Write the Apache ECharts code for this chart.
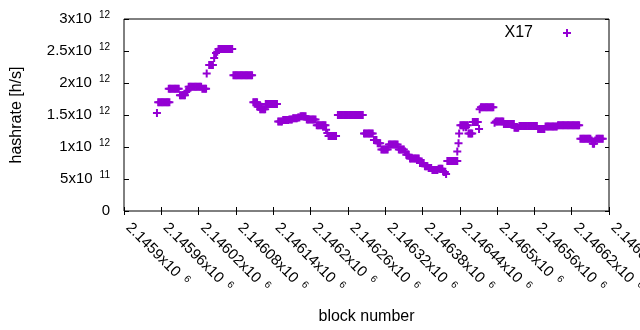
<!DOCTYPE html>
<html>
<head>
<meta charset="utf-8">
<style>
  html, body { margin: 0; padding: 0; background: #fff; }
  #chart { width: 640px; height: 330px; }
</style>
<script src="https://cdn.jsdelivr.net/npm/echarts@6/dist/echarts.min.js"></script>
</head>
<body>
<div id="chart"></div>
<script>
// x tick mantissas (value = mantissa x 10^6)
const xTickMantissa = ['2.1459', '2.14596', '2.14602', '2.14608', '2.14614', '2.1462', '2.14626',
  '2.14632', '2.14638', '2.14644', '2.1465', '2.14656', '2.14662', '2.14668']
// y tick labels: [mantissa, exponent]
const yTickLabels = [['0', ''], ['5', '11'], ['1', '12'], ['1.5', '12'], ['2', '12'], ['2.5', '12'], ['3', '12']]

const seriesName = 'X17'
const blockBase = 2145900
// X17 blocks: [hashrate in 10^12 h/s, block offsets from blockBase]
const x17Runs = [
  [1.53, [53]],
  [1.70, [55, 57, 59, 61, 63, 65, 67, 69, 71, 73]],
  [1.91, [72, 74, 76, 78, 80, 82, 84, 86, 88]],
  [1.81, [90, 92, 94, 96, 98]],
  [1.86, [100]],
  [1.88, [102]],
  [1.94, [104, 106, 108, 110, 112, 114, 116, 118, 120, 122, 124]],
  [1.91, [126, 128, 130, 132]],
  [2.15, [133]],
  [2.28, [137, 139, 141, 143]],
  [2.39, [145]],
  [2.47, [148]],
  [2.49, [150]],
  [2.53, [152, 154, 156, 158, 160, 162, 164, 166, 168, 170, 172, 174]],
  [2.12, [176, 178, 180, 182, 184, 186, 188, 190, 192, 194, 196, 198, 200, 202, 204, 206]],
  [1.70, [208, 210, 212, 214]],
  [1.63, [215, 217, 219, 221]],
  [1.59, [219, 221, 223, 225, 227]],
  [1.67, [228, 230, 232, 234, 236, 238, 240, 242, 244, 246]],
  [1.40, [248, 250, 252, 254]],
  [1.42, [256, 258, 260, 262, 264]],
  [1.43, [266, 268, 270]],
  [1.45, [272, 274, 276, 278]],
  [1.46, [280, 282]],
  [1.48, [284, 286, 288, 290, 292]],
  [1.43, [294, 296, 298, 300, 302, 304, 306, 308]],
  [1.34, [310, 312, 314, 316, 318, 320, 322, 324]],
  [1.27, [325]],
  [1.22, [327]],
  [1.17, [329, 331, 333, 335, 337, 339, 341]],
  [1.50, [344, 346, 348, 350, 352, 354, 356, 358, 360, 362, 364, 366, 368, 370, 372, 374, 376, 378, 380, 382, 384]],
  [1.21, [386, 388, 390, 392, 394, 396, 398, 400]],
  [1.11, [402, 404, 406]],
  [1.06, [408, 410, 412]],
  [0.96, [414, 416, 418, 420, 422, 424]],
  [1.04, [426, 428, 430, 432, 434, 436, 438, 440]],
  [0.96, [442, 444, 446, 448, 450]],
  [0.93, [452]],
  [0.88, [454, 456, 458]],
  [0.82, [460, 462, 464, 466, 468, 470, 472, 474]],
  [0.75, [476, 478, 480, 482]],
  [0.70, [484, 486, 488]],
  [0.67, [490, 492, 494]],
  [0.64, [496, 498, 500, 502, 504]],
  [0.66, [506, 508, 510, 512]],
  [0.61, [514, 516]],
  [0.58, [518]],
  [0.78, [520, 522, 524, 526, 528, 530, 532, 534, 536]],
  [0.93, [536]],
  [1.06, [538]],
  [1.21, [539]],
  [1.34, [541, 543, 545, 547, 549, 551, 553]],
  [1.31, [546, 550]],
  [1.21, [554, 556, 558, 560]],
  [1.39, [561, 563, 565, 567, 569]],
  [1.28, [571]],
  [1.59, [572]],
  [1.62, [574, 576, 578, 580, 582, 584, 586, 588, 590, 592, 594]],
  [1.38, [596]],
  [1.40, [598, 600, 602, 604, 606, 608, 610]],
  [1.36, [611, 613, 615, 617, 619, 621, 623, 625, 627]],
  [1.30, [628, 630, 632, 634]],
  [1.33, [636, 638, 640, 642, 644, 646, 648, 650, 652, 654, 656, 658, 660, 662, 664]],
  [1.28, [666, 668, 670, 672, 674, 676]],
  [1.32, [678, 680, 682, 684, 686, 688, 690, 692, 694, 696]],
  [1.34, [698, 700, 702, 704, 706, 708, 710, 712, 714, 716, 718, 720, 722, 724, 726, 728, 730, 732]],
  [1.13, [734, 736, 738, 740, 742, 744, 746, 748, 750]],
  [1.10, [752, 758]],
  [1.05, [754, 756]],
  [1.13, [760, 762, 764, 766, 768, 770]]
]

const FONT = 'Liberation Sans'
const PURPLE = '#9400d3'
// "+" marker as two thin filled bars
const PLUS = 'path://M0,3H8V5H0Z M3,0H5V8H3Z'

const points = []
x17Runs.forEach(r => {
  r[1].forEach(off => points.push([blockBase + off, r[0] * 1e12]))
})

const chart = echarts.init(document.getElementById('chart'), null, { renderer: 'canvas' })

// superscript raised by bottom padding (token is centred in the line)
const supStyle = { fontFamily: FONT, fontSize: 10, color: '#000', padding: [0, 0, 7, 7] }
const yRich = {
  m: { fontFamily: FONT, fontSize: 15, color: '#000' },
  s: supStyle
}
const xRich = {
  m: { fontFamily: FONT, fontSize: 15, color: '#000', padding: [0, 0, 0, 6] },
  s: supStyle
}
const titleStyle = { fontFamily: FONT, fontSize: 16, color: '#000' }

const option = {
  animation: false,
  grid: {
    left: 124, right: 31, top: 19, bottom: 119,
    outerBoundsMode: 'none',
    containLabel: false,
    show: true, borderColor: '#000', borderWidth: 1, backgroundColor: 'transparent'
  },
  legend: {
    right: 64, top: 20,
    align: 'right',
    itemWidth: 8, itemHeight: 8,
    textStyle: { fontFamily: FONT, fontSize: 16, color: '#000', padding: [0, 25, 0, 0] },
    data: [{ name: seriesName, icon: PLUS }]
  },
  xAxis: [
    {
      type: 'value', position: 'bottom',
      min: 2145900, max: 2146680, interval: 60,
      name: 'block number', nameLocation: 'middle', nameGap: 98,
      nameTextStyle: titleStyle,
      axisLine: { show: false },
      axisTick: { show: true, inside: true, length: 4, lineStyle: { color: '#000' } },
      splitLine: { show: false },
      axisLabel: {
        rotate: -45, margin: 10, showMaxLabel: true, showMinLabel: true, hideOverlap: false,
        formatter: (v, i) => '{m|' + xTickMantissa[i] + 'x10}{s|6}',
        rich: xRich
      }
    },
    {
      type: 'value', position: 'top',
      min: 2145900, max: 2146680, interval: 60,
      axisLine: { show: false },
      axisTick: { show: true, inside: true, length: 4, lineStyle: { color: '#000' } },
      axisLabel: { show: false },
      splitLine: { show: false }
    }
  ],
  yAxis: [
    {
      type: 'value', position: 'left',
      min: 0, max: 3e12, interval: 5e11,
      name: 'hashrate [h/s]', nameLocation: 'middle', nameGap: 99,
      nameTextStyle: titleStyle,
      axisLine: { show: false },
      axisTick: { show: true, inside: true, length: 5, lineStyle: { color: '#000' } },
      splitLine: { show: false },
      axisLabel: {
        margin: 14,
        formatter: (v, i) => yTickLabels[i][1] === ''
          ? '{m|' + yTickLabels[i][0] + '}'
          : '{m|' + yTickLabels[i][0] + 'x10}{s|' + yTickLabels[i][1] + '}',
        rich: yRich
      }
    },
    {
      type: 'value', position: 'right',
      min: 0, max: 3e12, interval: 5e11,
      axisLine: { show: false },
      axisTick: { show: true, inside: true, length: 4, lineStyle: { color: '#000' } },
      axisLabel: { show: false },
      splitLine: { show: false }
    }
  ],
  series: [
    {
      name: seriesName,
      type: 'scatter',
      symbol: PLUS,
      symbolSize: 8,
      itemStyle: { color: PURPLE, opacity: 1 },
      data: points
    }
  ]
}

chart.setOption(option)
</script>
</body>
</html>
